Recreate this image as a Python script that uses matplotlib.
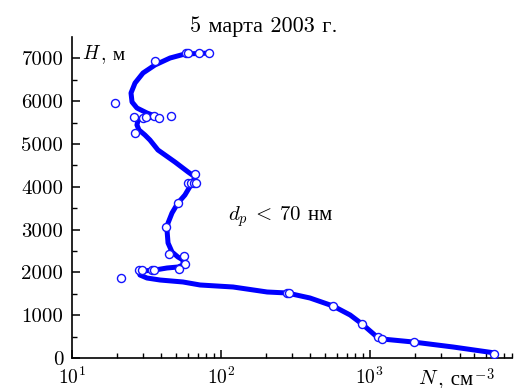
import matplotlib
matplotlib.use('Agg')
import matplotlib.pyplot as plt

plt.rcParams['font.family'] = ['cmr10', 'Liberation Serif']
plt.rcParams['mathtext.fontset'] = 'cm'
plt.rcParams['axes.formatter.use_mathtext'] = True
plt.rcParams['axes.unicode_minus'] = False

title = '5 марта 2003 г.'
note_math = r'$d_p\:<\:70$'
note_unit = ' нм'
ylabel_sym, ylabel_unit = r'$H$', ', м'
xlabel_sym, xlabel_unit, xlabel_pow = r'$N$', ', см', r'$^{-3}$'

# fitted profile (N, cm^-3 ; H, m), top to bottom
curve_n = [85, 57.5, 45.7, 36.2, 30.1, 26.6, 25.0, 25.4, 27.4, 32.0, 36.2, 37.9,
           30.1, 27.9, 27.4, 28.3, 31.0, 33.5, 37.9, 49.3, 60.4, 67.3, 64.2, 57.5,
           51.6, 47.1, 44.3, 43.6, 44.3, 47.1, 51.6, 55.8, 55.8, 51.6, 43.6, 36.2,
           30.1, 28.3, 28.7, 32.0, 39.2, 55.8, 72.6, 121, 205, 279, 397, 567, 738,
           888, 1119, 1210, 1954, 3624, 6930]
curve_h = [7125, 7103, 7009, 6846, 6659, 6425, 6192, 5981, 5841, 5724, 5654, 5631,
           5607, 5561, 5444, 5327, 5210, 5093, 4860, 4579, 4346, 4229, 4089, 3808,
           3621, 3388, 3154, 2991, 2687, 2477, 2360, 2290, 2173, 2126, 2103, 2056,
           2033, 2009, 1939, 1869, 1822, 1776, 1706, 1659, 1542, 1519, 1402, 1215,
           1005, 794, 491, 444, 374, 257, 117]

# measured points
obs_n = [58.5, 60.3, 71.4, 83.4, 36.2, 19.5, 26.2, 30.1, 31.5, 35.6, 38.5, 46.4,
         26.6, 67.3, 60.4, 63.0, 66.0, 68.0, 51.9, 42.9, 45.0, 57.0, 57.8, 52.7,
         28.3, 29.5, 34.4, 35.6, 21.3, 280, 289, 570, 891, 1143, 1211, 1973, 6850]
obs_h = [7126, 7126, 7126, 7126, 6939, 5958, 5623, 5600, 5623, 5654, 5607, 5654,
         5264, 4292, 4096, 4096, 4096, 4096, 3614, 3068, 2423, 2390, 2203, 2087,
         2049, 2049, 2049, 2049, 1876, 1511, 1511, 1222, 794, 483, 437, 366, 100]

yticks = [0, 1000, 2000, 3000, 4000, 5000, 6000, 7000]

W, H = 514, 388
fig = plt.figure(figsize=(W / 100, H / 100), dpi=100)
L, R, T, B = 71.7, 512, 37, 358
ax = fig.add_axes([L / W, (H - B) / H, (R - L) / W, (B - T) / H])

ax.plot(curve_n, curve_h, color='#0000ff', lw=3.6, solid_capstyle='round',
        solid_joinstyle='round', zorder=2)
ax.plot(obs_n, obs_h, 'o', ms=5.8, mfc='white', mec='#1414ff', mew=1.0, zorder=3)

ax.set_xscale('log')
ax.set_xlim(10, 9000)
ax.set_ylim(0, 7500)
ax.set_yticks(yticks)
ax.set_yticklabels([str(v) for v in yticks])
ax.set_yticks(range(500, 7500, 1000), minor=True)

for s in ['top', 'right']:
    ax.spines[s].set_visible(False)
for s in ['left', 'bottom']:
    ax.spines[s].set_linewidth(1.2)

ax.tick_params(which='major', direction='in', length=6, width=1.1, labelsize=15, pad=6)
ax.tick_params(which='minor', direction='in', length=3.5, width=1.0)
ax.tick_params(axis='x', which='major', pad=6, labelsize=14)
ax.tick_params(axis='x', which='minor', labelbottom=False)

fig.text(0.514, (H - 32) / H, title, ha='center', va='baseline', fontsize=16)

def label(parts, x, y, size):
    t = ax.text(x, y, parts[0], transform=ax.transAxes, ha='left', va='baseline',
                fontsize=size)
    prev = t
    for p in parts[1:]:
        prev = ax.annotate(p, xy=(1, y), xycoords=(prev, 'axes fraction'),
                           ha='left', va='baseline', fontsize=size)
    return t

label([ylabel_sym, ylabel_unit], (82 - L) / (R - L), (B - 59) / (B - T), 14)
label([xlabel_sym, xlabel_unit, xlabel_pow], (418 - L) / (R - L), (B - 384) / (B - T), 15)
label([note_math, note_unit], (228 - L) / (R - L), (B - 220) / (B - T), 15)

fig.savefig('out.png', dpi=100)
